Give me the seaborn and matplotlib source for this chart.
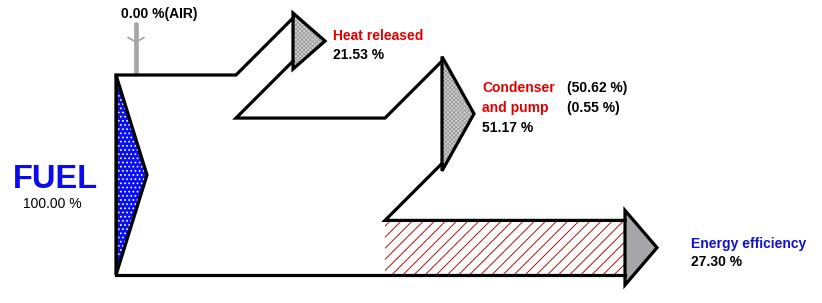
import matplotlib
matplotlib.use("Agg")
import matplotlib.pyplot as plt
from matplotlib.patches import Polygon, Rectangle
import seaborn as sns

# ---------------- data ----------------
fuel_pct = 100.00
air_pct = 0.00
flow_names = ["Heat released", "Condenser\nand pump", "Energy efficiency"]
flow_values = [21.53, 51.17, 27.30]
condenser_parts = [50.62, 0.55]

# ---------------- style / layout ----------------
sns.set_theme(style="white")
plt.rcParams["font.family"] = ["Liberation Sans", "DejaVu Sans"]
plt.rcParams["hatch.linewidth"] = 0.7

W, H = 822, 303
X0, Y0 = 116, 75          # top-left corner of the fuel inlet
S = 2.0                   # pixels per percent
X_HEAT, X_COND, X_EFF_END = 236, 385, 625
D = 57                    # length of 45 degree branch run
HEAD_LEN = 32
HEAD_EXTRA = [6.5, 6.0, 10.0]
LW = 2.3
RED = "#e00000"
BLUE = "#0a0af0"

fig = plt.figure(figsize=(W / 100, H / 100), dpi=100)
ax = fig.add_axes([0, 0, 1, 1])
ax.set_xlim(0, W)
ax.set_ylim(H, 0)
ax.axis("off")

heat, cond, eff = flow_values
yh = Y0 + heat * S
yc = yh + cond * S
ye = yc + eff * S

# efficiency hatched body
ax.add_patch(Rectangle((X_COND, yc), X_EFF_END - X_COND, ye - yc,
                       facecolor="white", edgecolor="#b01010", hatch="///",
                       linewidth=0, zorder=1))

# fuel triangle
fuel_tri = [(X0, Y0), (X0, ye), (X0 + 31, (Y0 + ye) / 2)]
ax.add_patch(Polygon(fuel_tri, closed=True, facecolor="#0a10ee", edgecolor="none",
                     linewidth=0, zorder=1))
ax.add_patch(Polygon(fuel_tri, closed=True, facecolor="none", edgecolor="white",
                     hatch="....", linewidth=0, zorder=1.5))
ax.add_patch(Polygon(fuel_tri, closed=True, facecolor="none", edgecolor="black",
                     linewidth=LW, joinstyle="miter", zorder=3))

# channel outlines
def line(pts):
    xs, ys = zip(*pts)
    ax.plot(xs, ys, color="black", lw=LW, solid_joinstyle="miter",
            solid_capstyle="projecting", zorder=3)

xh_end = X_HEAT + D
xc_end = X_COND + D
line([(X0, Y0), (X_HEAT, Y0), (xh_end, Y0 - D)])
line([(xh_end, yh - D), (X_HEAT, yh), (X_COND, yh), (xc_end, yh - D)])
line([(xc_end, yc - D), (X_COND, yc), (X_EFF_END, yc)])
line([(X_EFF_END, ye), (X0, ye), (X0, Y0)])

# arrow heads
ends = [(xh_end, Y0 - D, yh - D), (xc_end, yh - D, yc - D), (X_EFF_END, yc, ye)]
for i, (xe, ya, yb) in enumerate(ends):
    cy = (ya + yb) / 2 + (1.5 if i < 2 else 0)
    half = (yb - ya) / 2 + HEAD_EXTRA[i]
    tri = [(xe, cy - half), (xe, cy + half), (xe + HEAD_LEN, cy)]
    if i < 2:
        ax.add_patch(Polygon(tri, closed=True, facecolor="#d6d6d6", edgecolor="#9c9c9c",
                             hatch="xxxxxxxx", linewidth=0, zorder=2))
    else:
        ax.add_patch(Polygon(tri, closed=True, facecolor="#a6a6a8", edgecolor="none",
                             linewidth=0, zorder=2))
    ax.add_patch(Polygon(tri, closed=True, facecolor="none", edgecolor="black",
                         linewidth=LW, joinstyle="miter", zorder=3))

# air inlet
ax_x = 136
ax.plot([ax_x, ax_x], [24, Y0 - 1], color="#a6a6a6", lw=3.4,
        solid_capstyle="round", zorder=2)
ax.plot([128, ax_x, 144], [37.5, 42, 37.5], color="#a6a6a6", lw=1.3, zorder=2)

# texts
fs = 10
ax.text(121, 18, f"{air_pct:.2f} %(AIR)", fontsize=fs, fontweight="bold",
        color="black", va="baseline", ha="left")
ax.text(55.5, 188, "FUEL", fontsize=23.5, fontweight="bold", color=BLUE,
        va="baseline", ha="center")
ax.text(52.5, 208, f"{fuel_pct:.2f} %", fontsize=fs, fontweight="normal",
        color="black", va="baseline", ha="center")

ax.text(333, 40, flow_names[0], fontsize=fs, fontweight="bold", color=RED,
        va="baseline", ha="left")
ax.text(333, 59, f"{heat:.2f} %", fontsize=fs, fontweight="bold", color="black",
        va="baseline", ha="left")

c1, c2 = flow_names[1].split("\n")
ax.text(482, 92, c1, fontsize=fs, fontweight="bold", color=RED, va="baseline", ha="left")
ax.text(482, 112, c2, fontsize=fs, fontweight="bold", color=RED, va="baseline", ha="left")
ax.text(482, 132, f"{cond:.2f} %", fontsize=fs, fontweight="bold", color="black",
        va="baseline", ha="left")
ax.text(567, 92, f"({condenser_parts[0]:.2f} %)", fontsize=fs, fontweight="bold",
        color="black", va="baseline", ha="left")
ax.text(567, 112, f"({condenser_parts[1]:.2f} %)", fontsize=fs, fontweight="bold",
        color="black", va="baseline", ha="left")

ax.text(691, 248, flow_names[2], fontsize=fs, fontweight="bold", color="#1010d0",
        va="baseline", ha="left")
ax.text(691, 266, f"{eff:.2f} %", fontsize=fs, fontweight="bold", color="black",
        va="baseline", ha="left")

fig.savefig("out.png", dpi=100, facecolor="white")
